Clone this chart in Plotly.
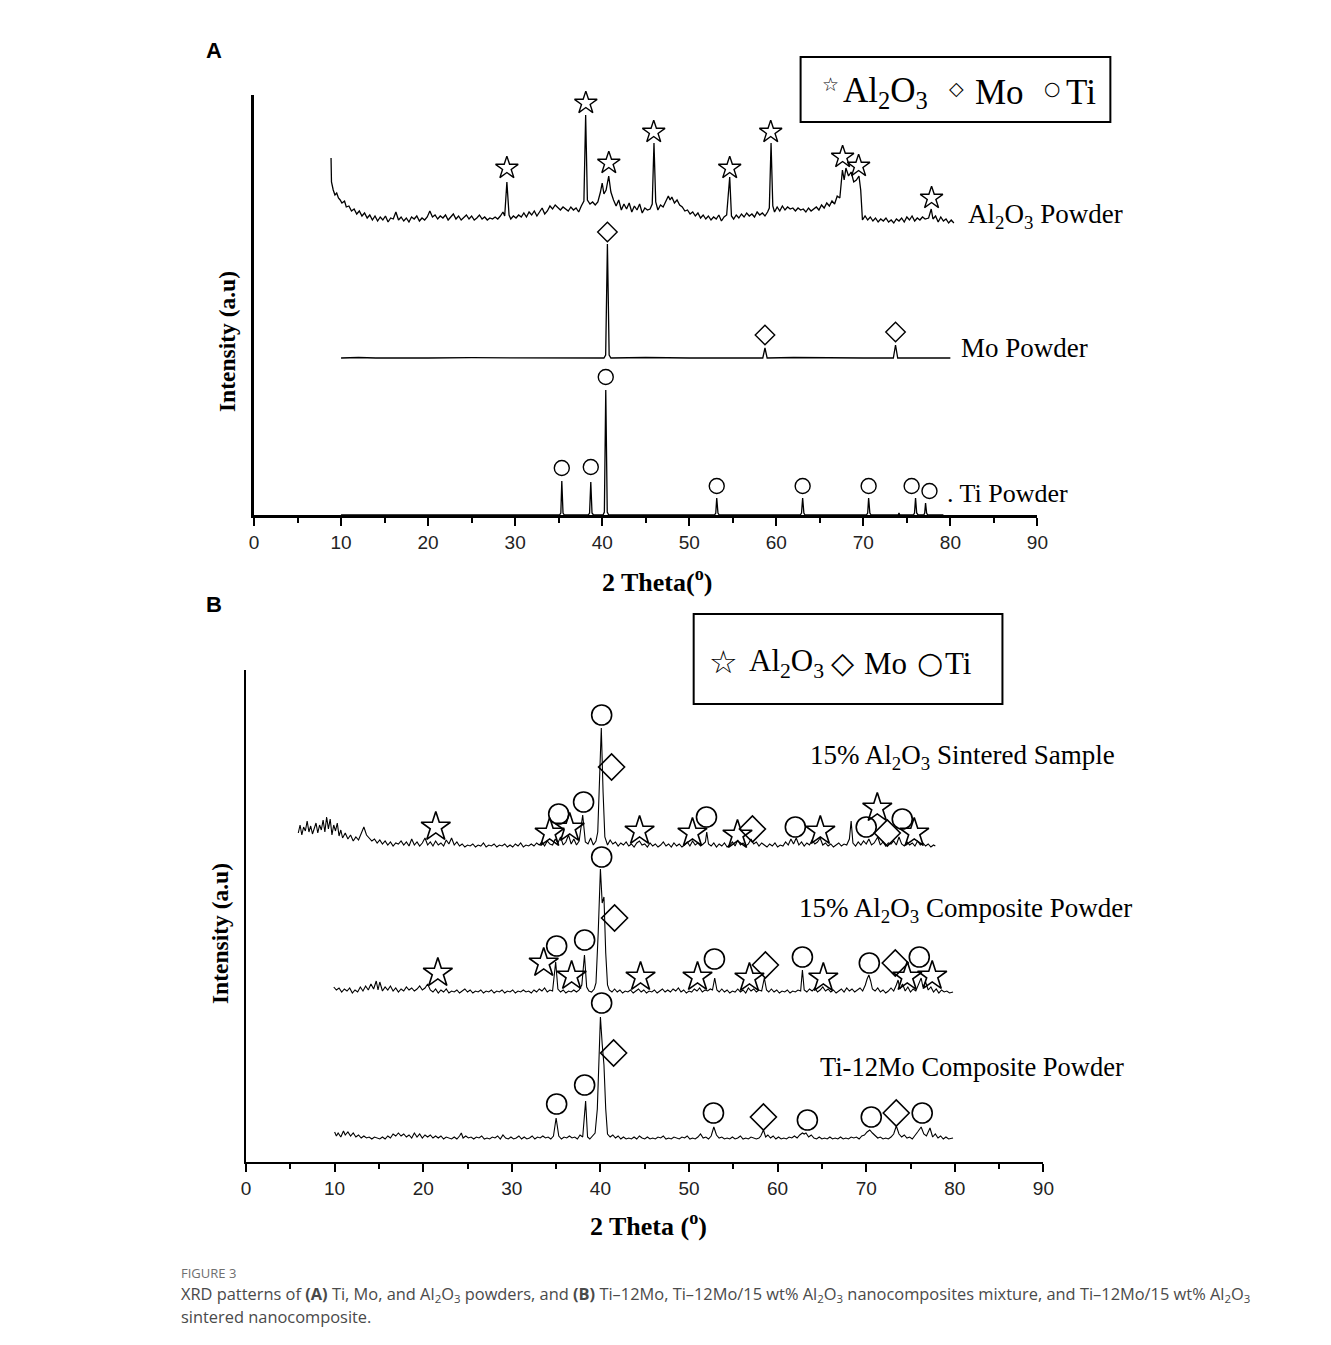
import plotly.graph_objects as go

W, H = 1331, 1345

# ---------------- Panel A: XRD of the starting powders ----------------
# (2theta [deg], intensity [a.u.] relative to the pattern's own baseline)
al2o3_powder = [
    (8.85, 62), (8.9, 38), (9.1, 30), (9.3, 25), (9.5, 27), (9.7, 22), (9.9, 20), (10.1, 17), (10.4, 19),
    (10.6, 13), (10.9, 14), (11.2, 9), (11.5, 11), (11.8, 6), (12.1, 9), (12.4, 4), (12.7, 7), (13.0, 2),
    (13.3, 5), (13.6, 0), (13.9, 4), (14.2, -1), (14.5, 3), (14.8, 0), (15.1, 4), (15.4, -2), (15.7, 2),
    (16.0, 1), (16.3, 8), (16.6, 0), (16.9, 3), (17.2, -1), (17.5, 2), (17.8, -2), (18.1, 3), (18.4, 1),
    (18.7, 4), (19.0, -1), (19.3, 2), (19.6, 0), (19.9, 3), (20.2, 9), (20.5, 3), (20.8, 5), (21.1, 1),
    (21.4, 4), (21.7, 2), (22.0, 5), (22.3, 0), (22.6, 3), (22.9, 6), (23.2, 1), (23.5, 4), (23.8, 0),
    (24.1, 3), (24.4, 5), (24.7, 1), (25.0, 4), (25.3, 0), (25.6, 2), (25.9, 5), (26.2, 1), (26.5, 3),
    (26.8, 0), (27.1, 2), (27.4, 1), (27.7, 3), (28.0, 1), (28.3, 4), (28.6, 8), (28.8, 4), (29.05, 38),
    (29.3, 5), (29.5, 1), (29.8, 4), (30.1, 2), (30.4, 5), (30.7, 3), (31.0, 7), (31.3, 3), (31.6, 8),
    (31.9, 5), (32.2, 9), (32.5, 4), (32.8, 8), (33.1, 12), (33.4, 6), (33.7, 9), (34.0, 14), (34.3, 11),
    (34.6, 15), (34.9, 12), (35.2, 10), (35.5, 13), (35.8, 11), (36.1, 9), (36.4, 13), (36.7, 10),
    (37.0, 12), (37.3, 8), (37.6, 14), (37.9, 19), (38.1, 105), (38.3, 20), (38.6, 16), (38.9, 18),
    (39.2, 15), (39.5, 18), (39.8, 28), (40.0, 37), (40.2, 26), (40.45, 30), (40.75, 44), (41.0, 28),
    (41.3, 20), (41.6, 14), (41.9, 20), (42.2, 10), (42.5, 16), (42.8, 11), (43.1, 17), (43.4, 8),
    (43.7, 14), (44.0, 10), (44.3, 16), (44.6, 7), (44.9, 12), (45.2, 10), (45.5, 11), (45.75, 16),
    (45.95, 77), (46.15, 18), (46.4, 10), (46.7, 15), (47.0, 13), (47.3, 18), (47.6, 24), (47.8, 20),
    (48.0, 23), (48.3, 17), (48.6, 20), (48.9, 15), (49.2, 13), (49.5, 9), (49.8, 10), (50.1, 6),
    (50.4, 8), (50.7, 4), (51.0, 7), (51.3, 2), (51.6, 5), (51.9, 1), (52.2, 4), (52.5, 0), (52.8, 3),
    (53.1, 1), (53.4, 5), (53.7, -1), (54.0, 3), (54.3, 5), (54.65, 43), (54.85, 4), (55.1, 1), (55.4, 5),
    (55.7, 2), (56.0, 6), (56.3, 3), (56.6, 7), (56.9, 4), (57.2, 6), (57.5, 3), (57.8, 8), (58.1, 5),
    (58.4, 7), (58.7, 4), (59.0, 8), (59.2, 12), (59.4, 77), (59.6, 14), (59.8, 8), (60.1, 13), (60.4, 9),
    (60.7, 14), (61.0, 10), (61.3, 13), (61.6, 11), (61.9, 12), (62.2, 9), (62.5, 12), (62.8, 10),
    (63.1, 11), (63.4, 8), (63.7, 12), (64.0, 9), (64.3, 11), (64.6, 13), (64.9, 10), (65.2, 15),
    (65.5, 12), (65.8, 17), (66.1, 14), (66.4, 19), (66.7, 16), (67.0, 24), (67.3, 22), (67.6, 50),
    (67.8, 40), (68.0, 52), (68.3, 44), (68.6, 48), (68.9, 38), (69.2, 40), (69.5, 44), (69.7, 30),
    (69.9, 0), (70.2, 4), (70.5, 0), (70.8, 3), (71.1, -1), (71.4, 2), (71.7, -2), (72.0, 1), (72.3, -1),
    (72.6, 2), (72.9, -2), (73.2, 0), (73.5, -3), (73.8, 1), (74.1, -1), (74.4, 2), (74.7, -2), (75.0, 3),
    (75.3, 0), (75.6, 4), (75.9, -1), (76.2, 2), (76.5, 0), (76.8, 3), (77.1, 1), (77.5, 2), (77.8, 11),
    (78.0, 1), (78.3, 4), (78.6, -2), (78.9, 3), (79.2, -1), (79.5, 1), (79.8, -3), (80.1, 0), (80.4, -3),
]
mo_powder = [
    (10.0, 0), (12.0, 0.5), (14.0, 0), (18.0, 0.5), (20.0, 0), (25.0, 0.3), (30.0, 0), (35.0, 0),
    (40.2, 0), (40.4, 3), (40.52, 70), (40.6, 114), (40.68, 70), (40.8, 3), (41.0, 0), (45.0, 0.5),
    (50.0, 0), (55.0, 0), (58.45, 0), (58.7, 10), (58.95, 0), (62.0, 0.5), (66.0, 0), (70.0, 0),
    (73.45, 0), (73.7, 13), (73.95, 0), (77.0, 0), (80.0, 0),
]
ti_powder = [
    (10.0, 0), (35.1, 0), (35.25, 2), (35.36, 34), (35.5, 2), (35.65, 0), (38.4, 0), (38.55, 2),
    (38.69, 33), (38.83, 2), (39.0, 0), (40.1, 0), (40.25, 3), (40.41, 125), (40.58, 3), (40.75, 0),
    (52.9, 0), (53.05, 2), (53.16, 17), (53.3, 2), (53.45, 0), (62.75, 0), (62.9, 2), (63.03, 17),
    (63.17, 2), (63.3, 0), (70.35, 0), (70.5, 2), (70.61, 17), (70.75, 2), (70.9, 0), (74.0, 0),
    (74.1, 2), (74.2, 0), (75.75, 0), (75.88, 2), (76.0, 17), (76.13, 2), (76.3, 0), (76.95, 0),
    (77.05, 2), (77.15, 12), (77.27, 2), (77.4, 0), (79.2, 0),
]
offsets_A = {"al2o3": 295, "mo": 157, "ti": 0}

# phase identification marks, panel A: (2theta, intensity level)
A_stars = [(29.05, 347), (38.12, 412), (40.76, 352), (45.92, 383), (54.65, 347), (59.36, 383),
           (67.62, 358), (69.46, 349), (77.84, 317)]
A_diamonds = [(40.6, 283), (58.7, 180), (73.7, 183)]
A_circles = [(35.36, 47), (38.69, 48), (40.41, 138), (53.16, 29), (63.03, 29), (70.61, 29),
             (75.55, 29), (77.6, 24)]

# ---------------- Panel B: composites ----------------
sintered = [
    (5.9, 14), (6.1, 22), (6.3, 12), (6.5, 20), (6.7, 16), (6.9, 26), (7.1, 15), (7.3, 21), (7.5, 13),
    (7.7, 19), (7.9, 24), (8.1, 14), (8.3, 22), (8.5, 17), (8.7, 27), (8.9, 15), (9.1, 30), (9.3, 18),
    (9.5, 28), (9.7, 12), (9.9, 22), (10.1, 16), (10.3, 24), (10.5, 11), (10.7, 17), (10.9, 9),
    (11.2, 14), (11.5, 8), (11.8, 12), (12.1, 6), (12.4, 10), (12.7, 7), (13.0, 13), (13.3, 20),
    (13.6, 12), (13.9, 9), (14.2, 6), (14.5, 8), (14.8, 4), (15.1, 7), (15.4, 3), (15.7, 6), (16.0, 2),
    (16.3, 5), (16.6, 1), (16.9, 4), (17.2, 3), (17.5, 6), (17.8, 2), (18.1, 5), (18.4, 1), (18.7, 8),
    (19.0, 2), (19.3, 5), (19.6, 1), (19.9, 4), (20.2, 9), (20.5, 2), (20.8, 5), (21.1, 1), (21.4, 6),
    (21.7, 2), (22.0, 4), (22.3, 1), (22.6, 7), (22.9, 3), (23.2, 9), (23.5, 2), (23.8, 5), (24.1, 1),
    (24.4, 3), (24.7, 0), (25.0, 2), (25.3, 1), (25.6, 3), (25.9, 0), (26.2, 2), (26.5, 1), (26.8, 4),
    (27.1, 0), (27.4, 2), (27.7, 1), (28.0, 3), (28.3, 0), (28.6, 2), (28.9, 1), (29.2, 3), (29.5, 0),
    (29.8, 2), (30.1, 0), (30.4, 3), (30.7, 1), (31.0, 4), (31.3, 0), (31.6, 2), (31.9, 1), (32.2, 3),
    (32.5, 1), (32.8, 4), (33.1, 2), (33.4, 5), (33.7, 1), (34.0, 6), (34.3, 3), (34.6, 2), (34.9, 8),
    (35.2, 4), (35.5, 10), (35.8, 2), (36.1, 5), (36.4, 12), (36.7, 3), (37.0, 8), (37.3, 2), (37.6, 6),
    (38.0, 32), (38.3, 5), (38.6, 3), (38.9, 9), (39.2, 2), (39.5, 6), (39.7, 15), (39.9, 60),
    (40.1, 119), (40.3, 55), (40.5, 10), (40.8, 2), (41.1, 7), (41.4, 3), (41.7, 5), (42.0, 1),
    (42.3, 4), (42.6, 2), (42.9, 5), (43.2, 1), (43.5, 3), (43.8, 0), (44.1, 4), (44.4, 6), (44.7, 2),
    (45.0, 3), (45.3, 0), (45.6, 4), (45.9, 1), (46.2, 3), (46.5, 0), (46.8, 2), (47.1, 5), (47.4, 1),
    (47.7, 3), (48.0, 0), (48.3, 4), (48.6, 1), (48.9, 3), (49.2, 0), (49.5, 2), (49.8, 5), (50.1, 1),
    (50.4, 6), (50.7, 2), (51.0, 4), (51.3, 1), (51.6, 3), (51.85, 5), (52.0, 15), (52.2, 3), (52.5, 1),
    (52.8, 4), (53.1, 0), (53.4, 3), (53.7, 1), (54.0, 4), (54.3, 0), (54.6, 2), (54.9, 5), (55.2, 1),
    (55.5, 7), (55.8, 2), (56.1, 4), (56.4, 1), (56.7, 3), (57.0, 8), (57.3, 3), (57.6, 5), (57.9, 1),
    (58.2, 4), (58.5, 2), (58.8, 0), (59.1, 3), (59.4, 1), (59.7, 4), (60.0, 0), (60.3, 2), (60.6, 1),
    (60.9, 5), (61.2, 2), (61.5, 8), (61.8, 3), (62.1, 9), (62.4, 2), (62.7, 5), (63.0, 1), (63.3, 4),
    (63.6, 2), (63.9, 7), (64.2, 3), (64.5, 5), (64.8, 9), (65.1, 2), (65.4, 4), (65.7, 1), (66.0, 3),
    (66.3, 0), (66.6, 2), (66.9, 4), (67.2, 1), (67.5, 3), (67.8, 2), (68.1, 8), (68.3, 26), (68.5, 4),
    (68.8, 1), (69.1, 5), (69.4, 2), (69.7, 6), (70.0, 3), (70.3, 8), (70.6, 2), (70.9, 4), (71.3, 10),
    (71.6, 2), (71.9, 5), (72.2, 1), (72.5, 4), (72.8, 3), (73.1, 6), (73.4, 2), (73.7, 10), (74.0, 3),
    (74.3, 1), (74.6, 5), (74.9, 2), (75.2, 4), (75.5, 1), (75.8, 6), (76.1, 2), (76.4, 4), (76.7, 1),
    (77.0, 3), (77.3, 0), (77.6, 2), (77.8, 1),
]
composite = [
    (9.9, 6), (10.2, 3), (10.5, 5), (10.8, 1), (11.1, 4), (11.4, 2), (11.7, 5), (12.0, 0), (12.3, 3),
    (12.6, 1), (12.9, 6), (13.2, 2), (13.5, 7), (13.8, 3), (14.1, 9), (14.4, 4), (14.7, 12), (14.9, 3),
    (15.1, 11), (15.4, 2), (15.7, 6), (16.0, 3), (16.3, 7), (16.6, 2), (16.9, 5), (17.2, 1), (17.5, 4),
    (17.8, 2), (18.1, 6), (18.4, 3), (18.7, 5), (19.0, 2), (19.3, 4), (19.6, 7), (19.9, 3), (20.2, 5),
    (20.5, 9), (20.8, 3), (21.1, 1), (21.4, 4), (21.7, 0), (22.0, 3), (22.3, 1), (22.6, 4), (22.9, 0),
    (23.2, 2), (23.5, 1), (23.8, 3), (24.1, 0), (24.4, 2), (24.7, 4), (25.0, 1), (25.3, 3), (25.6, 0),
    (25.9, 2), (26.2, 1), (26.5, 3), (26.8, 0), (27.1, 2), (27.4, 1), (27.7, 3), (28.0, 0), (28.3, 2),
    (28.6, 1), (28.9, 3), (29.2, 0), (29.5, 2), (29.8, 1), (30.1, 3), (30.4, 0), (30.7, 2), (31.0, 1),
    (31.3, 3), (31.6, 1), (31.9, 2), (32.2, 0), (32.5, 3), (32.8, 1), (33.1, 4), (33.4, 2), (33.7, 5),
    (34.0, 1), (34.3, 3), (34.6, 2), (34.95, 31), (35.2, 4), (35.5, 1), (35.8, 3), (36.1, 0), (36.4, 2),
    (36.7, 1), (37.0, 3), (37.3, 1), (37.6, 3), (37.9, 8), (38.2, 38), (38.45, 6), (38.7, 2), (39.0, 1),
    (39.3, 4), (39.5, 10), (39.75, 60), (40.0, 124), (40.2, 90), (40.4, 96), (40.6, 40), (40.8, 8),
    (41.0, 3), (41.3, 1), (41.6, 4), (41.9, 1), (42.2, 3), (42.5, 0), (42.8, 2), (43.1, 1), (43.4, 3),
    (43.7, 0), (44.0, 2), (44.3, 4), (44.6, 1), (44.9, 3), (45.2, 0), (45.5, 2), (45.8, 1), (46.1, 3),
    (46.4, 0), (46.7, 2), (47.0, 4), (47.3, 1), (47.6, 3), (47.9, 1), (48.2, 4), (48.5, 2), (48.8, 5),
    (49.1, 1), (49.4, 3), (49.7, 0), (50.0, 2), (50.3, 1), (50.6, 4), (50.9, 2), (51.2, 5), (51.5, 1),
    (51.8, 3), (52.1, 2), (52.4, 4), (52.65, 3), (52.9, 15), (53.15, 3), (53.4, 1), (53.7, 4), (54.0, 1),
    (54.3, 3), (54.6, 0), (54.9, 2), (55.2, 1), (55.5, 4), (55.8, 1), (56.1, 3), (56.4, 0), (56.7, 5),
    (57.0, 2), (57.3, 4), (57.6, 1), (57.9, 3), (58.2, 2), (58.5, 15), (58.75, 3), (59.0, 1), (59.3, 4),
    (59.6, 1), (59.9, 3), (60.2, 0), (60.5, 2), (60.8, 1), (61.1, 3), (61.4, 0), (61.7, 2), (62.0, 1),
    (62.3, 3), (62.6, 2), (62.8, 23), (63.0, 3), (63.3, 1), (63.6, 4), (63.9, 2), (64.2, 5), (64.5, 1),
    (64.8, 3), (65.1, 6), (65.4, 2), (65.7, 4), (66.0, 1), (66.3, 3), (66.6, 0), (66.9, 2), (67.2, 4),
    (67.5, 1), (67.8, 5), (68.1, 2), (68.4, 4), (68.7, 1), (69.0, 3), (69.3, 5), (69.6, 2), (69.9, 8),
    (70.1, 14), (70.3, 18), (70.5, 12), (70.7, 4), (71.0, 2), (71.3, 5), (71.6, 1), (71.9, 3), (72.2, 0),
    (72.5, 2), (72.8, 5), (73.1, 2), (73.4, 8), (73.6, 13), (73.8, 4), (74.1, 9), (74.4, 2), (74.7, 6),
    (75.0, 1), (75.3, 4), (75.6, 2), (76.0, 10), (76.2, 15), (76.4, 6), (76.7, 11), (77.0, 3), (77.3, 6),
    (77.6, 1), (77.9, 4), (78.2, 0), (78.5, 3), (78.8, 1), (79.1, 2), (79.4, 0), (79.8, 1),
]
ti12mo = [
    (10.0, 7), (10.2, 3), (10.4, 6), (10.7, 2), (11.0, 8), (11.2, 4), (11.5, 7), (11.8, 3), (12.1, 6),
    (12.4, 2), (12.7, 4), (13.0, 1), (13.3, 3), (13.6, 1), (13.9, 2), (14.2, 0), (14.5, 2), (14.8, 1),
    (15.1, 0), (15.4, 2), (15.7, 0), (16.0, 3), (16.3, 1), (16.6, 5), (16.9, 3), (17.2, 6), (17.5, 3),
    (17.8, 5), (18.1, 2), (18.4, 4), (18.7, 1), (19.0, 6), (19.3, 2), (19.6, 5), (19.9, 1), (20.2, 4),
    (20.5, 2), (20.8, 4), (21.1, 1), (21.4, 3), (21.7, 1), (22.0, 3), (22.3, 0), (22.6, 2), (22.9, 1),
    (23.2, 0), (23.5, 2), (23.8, 0), (24.1, 3), (24.3, 6), (24.5, 1), (24.8, 3), (25.1, 1), (25.4, 2),
    (25.7, 0), (26.0, 2), (26.3, 1), (26.6, 3), (26.9, 0), (27.2, 1), (27.5, 0), (27.8, 2), (28.1, 1),
    (28.4, 3), (28.7, 0), (29.0, 4), (29.3, 1), (29.6, 0), (29.9, 2), (30.2, 0), (30.5, 1), (30.8, 3),
    (31.1, 0), (31.4, 2), (31.7, 0), (32.0, 1), (32.3, 3), (32.6, 0), (32.9, 2), (33.2, 1), (33.5, 3),
    (33.8, 1), (34.1, 2), (34.4, 0), (34.7, 3), (35.0, 21), (35.3, 3), (35.6, 0), (35.9, 2), (36.2, 1),
    (36.5, 3), (36.8, 1), (37.1, 2), (37.4, 0), (37.7, 4), (38.0, 2), (38.33, 38), (38.55, 2), (38.8, 0),
    (39.1, 3), (39.4, 6), (39.65, 30), (40.0, 122), (40.2, 95), (40.4, 74), (40.6, 30), (40.8, 5),
    (41.1, 2), (41.4, 4), (41.7, 1), (42.0, 3), (42.3, 0), (42.6, 2), (42.9, 0), (43.2, 1), (43.5, 0),
    (43.8, 2), (44.1, 0), (44.4, 3), (44.7, 1), (45.0, 0), (45.3, 2), (45.6, 0), (45.9, 1), (46.2, 0),
    (46.5, 2), (46.8, 1), (47.1, 3), (47.4, 0), (47.7, 1), (48.0, 0), (48.3, 2), (48.6, 1), (48.9, 0),
    (49.2, 2), (49.5, 1), (49.8, 3), (50.1, 0), (50.4, 1), (50.7, 0), (51.0, 2), (51.3, 5), (51.6, 1),
    (51.9, 2), (52.2, 0), (52.5, 3), (52.8, 12), (53.1, 4), (53.4, 1), (53.7, 2), (54.0, 0), (54.3, 1),
    (54.6, 0), (54.9, 2), (55.2, 0), (55.5, 1), (55.8, 3), (56.1, 0), (56.4, 1), (56.7, 0), (57.0, 2),
    (57.3, 1), (57.6, 0), (57.9, 1), (58.1, 3), (58.4, 9), (58.65, 2), (58.9, 4), (59.2, 1), (59.5, 3),
    (59.8, 0), (60.1, 2), (60.4, 0), (60.7, 1), (61.0, 0), (61.3, 2), (61.6, 1), (61.9, 3), (62.2, 1),
    (62.5, 4), (62.8, 6), (63.0, 5), (63.2, 6), (63.5, 2), (63.8, 4), (64.1, 1), (64.4, 0), (64.7, 2),
    (65.0, 0), (65.3, 1), (65.6, 0), (65.9, 2), (66.2, 0), (66.5, 1), (66.8, 0), (67.1, 2), (67.4, 0),
    (67.7, 1), (68.0, 0), (68.3, 2), (68.6, 1), (68.9, 2), (69.2, 0), (69.5, 3), (69.8, 4), (70.1, 7),
    (70.4, 9), (70.7, 6), (71.0, 3), (71.3, 1), (71.6, 2), (71.9, 0), (72.2, 1), (72.5, 0), (72.8, 2),
    (73.1, 5), (73.4, 13), (73.7, 5), (74.0, 2), (74.3, 4), (74.6, 1), (74.9, 2), (75.2, 0), (75.5, 3),
    (75.8, 7), (76.2, 12), (76.5, 5), (76.8, 3), (77.2, 11), (77.5, 2), (77.8, 5), (78.1, 1), (78.4, 3),
    (78.7, 0), (79.0, 2), (79.3, 0), (79.8, 1),
]
offsets_B = {"sintered": 315, "composite": 169, "ti12mo": 23}

B_stars = [(21.42, 335), (34.27, 329), (36.53, 334), (44.42, 331), (50.39, 329), (55.47, 327),
           (64.82, 331), (71.25, 354), (75.42, 329),
           (21.65, 189), (33.6, 199), (36.75, 186), (44.53, 185), (50.96, 185), (56.82, 184),
           (65.16, 184), (74.63, 185), (77.45, 186)]
B_diamonds = [(41.26, 395), (57.16, 333), (72.38, 329),
              (41.6, 244), (58.62, 197), (73.28, 199),
              (41.49, 109), (58.4, 45), (73.39, 49)]
B_circles = [(40.14, 447), (35.29, 348), (38.1, 360), (51.97, 345), (62.0, 335), (70.0, 335), (74.07, 343),
             (35.06, 216), (38.22, 222), (40.14, 305), (52.87, 203), (62.8, 205), (70.35, 199), (75.99, 205),
             (35.06, 58), (38.22, 77), (40.14, 159), (52.76, 49), (63.36, 42), (70.57, 45), (76.32, 49)]

x_ticks = [0, 10, 20, 30, 40, 50, 60, 70, 80, 90]

# ---------------- figure ----------------
# the viewer lays the paper out ~1316 px wide with a ~4 px inset; map page pixels onto that
PAPER_W, PAPER_X0 = 1316.0, 3.8

def px_x(p):
    return (p - PAPER_X0) / PAPER_W

def px_y(p):
    return 1 - p / H

fig = go.Figure()

def add_pattern(points, offset, xa, ya, width):
    fig.add_trace(go.Scatter(
        x=[p[0] for p in points], y=[p[1] + offset for p in points],
        mode="lines", line=dict(color="black", width=width),
        xaxis=xa, yaxis=ya, showlegend=False, hoverinfo="skip"))

def add_marks(points, symbol, size, xa, ya, lw):
    fig.add_trace(go.Scatter(
        x=[p[0] for p in points], y=[p[1] for p in points], mode="markers",
        marker=dict(symbol=symbol, size=size, color="black", line=dict(width=lw, color="black")),
        xaxis=xa, yaxis=ya, showlegend=False, hoverinfo="skip", cliponaxis=False))

add_pattern(al2o3_powder, offsets_A["al2o3"], "x", "y", 1.3)
add_pattern(mo_powder, offsets_A["mo"], "x", "y", 1.3)
add_pattern(ti_powder, offsets_A["ti"], "x", "y", 1.3)
add_marks(A_stars, "star-open", 17, "x", "y", 1.4)
add_marks(A_diamonds, "diamond-open", 15, "x", "y", 1.4)
add_marks(A_circles, "circle-open", 15, "x", "y", 1.4)

add_pattern(sintered, offsets_B["sintered"], "x2", "y2", 1.1)
add_pattern(composite, offsets_B["composite"], "x2", "y2", 1.1)
add_pattern(ti12mo, offsets_B["ti12mo"], "x2", "y2", 1.1)
add_marks(B_stars, "star-open", 22, "x2", "y2", 1.6)
add_marks(B_diamonds, "diamond-open", 20, "x2", "y2", 1.6)
add_marks(B_circles, "circle-open", 20, "x2", "y2", 1.6)

tickfont = dict(family="Liberation Sans, Arial, sans-serif", size=19, color="#222")

def xaxis_cfg(domain, anchor, lw):
    return dict(domain=domain, anchor=anchor, range=[0, 90], tickvals=x_ticks,
                ticktext=[str(t) for t in x_ticks], ticks="outside", ticklen=8, tickwidth=2,
                tickcolor="black", showline=True, linecolor="black", linewidth=lw,
                showgrid=False, zeroline=False, tickfont=tickfont, fixedrange=True,
                minor=dict(tickvals=[5, 15, 25, 35, 45, 55, 65, 75, 85], ticks="outside",
                           ticklen=5, tickwidth=2, tickcolor="black", showgrid=False))

def yaxis_cfg(domain, anchor, rng, lw):
    return dict(domain=domain, anchor=anchor, range=rng, showticklabels=False, ticks="",
                showline=True, linecolor="black", linewidth=lw, showgrid=False,
                zeroline=False, fixedrange=True)

fig.update_layout(
    width=W, height=H, autosize=False,
    margin=dict(l=0, r=0, t=0, b=0),
    paper_bgcolor="white", plot_bgcolor="white",
    xaxis=xaxis_cfg([px_x(253), px_x(1037)], "y", 2.5),
    yaxis=yaxis_cfg([px_y(515), px_y(95)], "x", [0, 420], 3),
    xaxis2=xaxis_cfg([px_x(245), px_x(1043)], "y2", 2),
    yaxis2=yaxis_cfg([px_y(1162), px_y(670)], "x2", [0, 492], 2),
)

serif = "Liberation Serif, Times New Roman, serif"
sans = "Open Sans, Liberation Sans, sans-serif"
sym = "DejaVu Sans, sans-serif"

annotations = []

def note(text, x, y, size, family=serif, anchor="left", color="black", angle=0, yanchor="middle"):
    annotations.append(dict(text=text, x=px_x(x), y=px_y(y), xref="paper", yref="paper",
                            xanchor=anchor, yanchor=yanchor, showarrow=False, textangle=angle,
                            font=dict(family=family, size=size, color=color)))

# panel letters
note("<b>A</b>", 213, 50, 22, family="Liberation Sans, Arial, sans-serif", anchor="center")
note("<b>B</b>", 213, 604, 22, family="Liberation Sans, Arial, sans-serif", anchor="center")

# pattern labels
note("Al<sub>2</sub>O<sub>3</sub> Powder", 966, 216, 27)
note("Mo Powder", 959, 348, 27)
note(". Ti Powder", 945, 494, 26)
note("15% Al<sub>2</sub>O<sub>3</sub> Sintered Sample", 807, 757, 27)
note("15% Al<sub>2</sub>O<sub>3</sub> Composite Powder", 796, 910, 27)
note("Ti-12Mo Composite Powder", 817, 1067, 26.5)

# axis titles
note("<b>2 Theta(<sup>o</sup>)</b>", 656, 580, 26, anchor="center")
note("<b>2 Theta (<sup>o</sup>)</b>", 648, 1224, 26, anchor="center")
note("<b>Intensity (a.u)</b>", 226, 342, 23.5, anchor="center", angle=-90)
note("<b>Intensity (a.u)</b>", 219, 934, 23.5, anchor="center", angle=-90)

# legend A
note("☆", 830, 84, 19, family=sym, anchor="center")
note("Al<sub>2</sub>O<sub>3</sub>", 840, 92, 35)
note("◇", 956, 88, 19, family=sym, anchor="center")
note("Mo", 973, 92, 35)
note("○", 1052, 88, 19, family=sym, anchor="center")
note("Ti", 1064, 92, 35)

# legend B
note("☆", 723, 662, 32, family=sym, anchor="center")
note("Al<sub>2</sub>O<sub>3</sub>", 746, 663, 31)
note("◇", 842, 662, 30, family=sym, anchor="center")
note("Mo", 861, 663, 31)
note("○", 930, 662, 30, family=sym, anchor="center")
note("Ti", 943, 663, 31)

# caption
note("FIGURE 3", 178, 1273, 13, family=sans, color="#6f6f6f")
note("XRD patterns of <b>(A)</b> Ti, Mo, and Al<sub>2</sub>O<sub>3</sub> powders, and <b>(B)</b> "
     "Ti–12Mo, Ti–12Mo/15 wt% Al<sub>2</sub>O<sub>3</sub> nanocomposites mixture, and "
     "Ti–12Mo/15 wt% Al<sub>2</sub>O<sub>3</sub>", 178, 1294, 16.4, family=sans, color="#4a4a4a")
note("sintered nanocomposite.", 178, 1316, 16.4, family=sans, color="#4a4a4a")

fig.update_layout(annotations=annotations)

shapes = [
    dict(type="rect", xref="paper", yref="paper", x0=px_x(800), x1=px_x(1110), y0=px_y(122), y1=px_y(57),
         line=dict(color="black", width=2)),
    dict(type="rect", xref="paper", yref="paper", x0=px_x(693), x1=px_x(1002), y0=px_y(704), y1=px_y(614),
         line=dict(color="black", width=2)),
]
fig.update_layout(shapes=shapes)

fig.write_html("out.html", config={"responsive": False, "displayModeBar": False})
